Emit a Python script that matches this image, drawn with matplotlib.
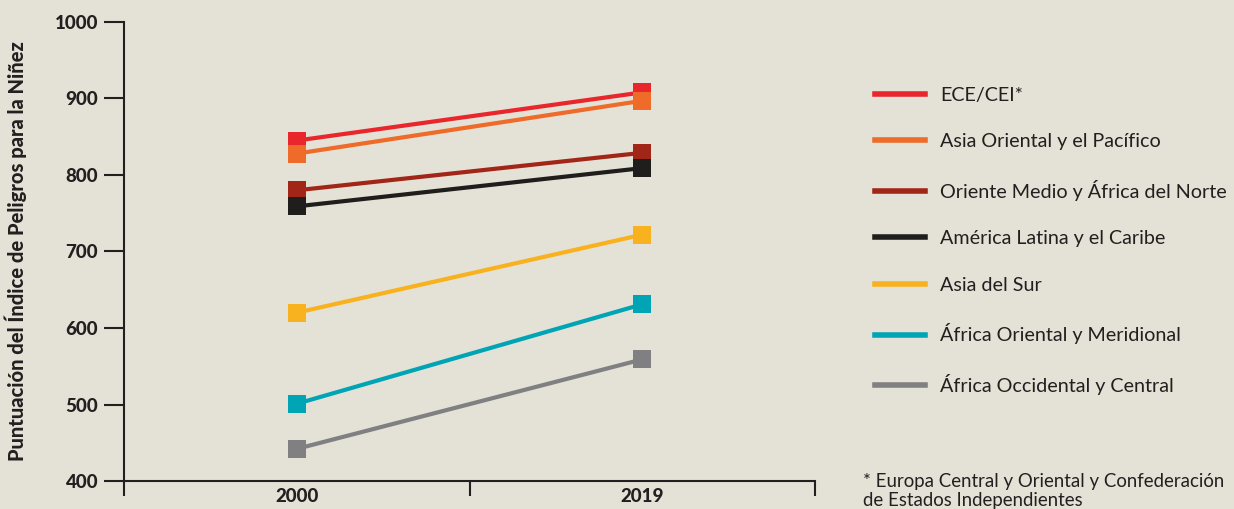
import matplotlib.pyplot as plt
from matplotlib.lines import Line2D

plt.rcParams['font.family'] = ['Lato', 'DejaVu Sans']

years = ['2000', '2019']
regions = ['ECE/CEI*', 'Asia Oriental y el Pacífico', 'Oriente Medio y África del Norte',
           'América Latina y el Caribe', 'Asia del Sur', 'África Oriental y Meridional',
           'África Occidental y Central']
v2000 = [845, 828, 780, 759, 620, 501, 442]
v2019 = [908, 897, 829, 809, 722, 631, 559]
colors = ['#e8262b', '#ee6b2a', '#a12617', '#1f1e1c', '#f9b21f', '#00a5b5', '#808083']

bg = '#e4e2d6'
ink = '#231f20'

fig = plt.figure(figsize=(12.34, 5.09), dpi=100, facecolor=bg)
ax = fig.add_axes([0.1005, 0.055, 0.56, 0.9018], facecolor=bg)

xs = [0.5, 1.5]
for name, a, b, c in zip(regions, v2000, v2019, colors):
    ax.plot(xs, [a, b], color=c, lw=3, marker='s', ms=12.5, mew=0, clip_on=False)

ax.set_xlim(0, 2)
ax.set_ylim(400, 1000)
ax.set_yticks([400, 500, 600, 700, 800, 900, 1000])
ax.set_xticks([0, 1, 2])
ax.set_xticklabels([])
ax.set_xticks(xs, minor=True)
ax.set_xticklabels(years, minor=True)

for s in ['top', 'right']:
    ax.spines[s].set_visible(False)
for s in ['left', 'bottom']:
    ax.spines[s].set_color(ink)
    ax.spines[s].set_linewidth(1.5)

ax.tick_params(axis='y', length=14.5, width=1.5, color=ink, labelsize=13.5, pad=4, labelcolor=ink)
ax.tick_params(axis='x', which='major', length=11, width=1.5, color=ink)
ax.tick_params(axis='x', which='minor', length=0, labelsize=13.5, pad=5, labelcolor=ink)
for t in ax.get_yticklabels() + ax.get_xticklabels(minor=True):
    t.set_fontweight('black')

ax.set_ylabel('Puntuación del Índice de Peligros para la Niñez', fontsize=14.5,
              fontweight='black', color=ink, labelpad=20)

handles = [Line2D([], [], color=c, lw=4) for c in colors]
leg = fig.legend(handles, regions, loc='upper left', bbox_to_anchor=(0.709, 0.830),
                 frameon=False, fontsize=14.2, handlelength=2.55, handletextpad=0.75,
                 labelspacing=1.5, borderaxespad=0, borderpad=0)
for t in leg.get_texts():
    t.set_color(ink)

fig.text(0.699, 0.0, '* Europa Central y Oriental y Confederación\nde Estados Independientes',
         fontsize=13.4, color=ink, va='bottom', ha='left', linespacing=1.15)

fig.savefig('out.png', dpi=100, facecolor=bg)
